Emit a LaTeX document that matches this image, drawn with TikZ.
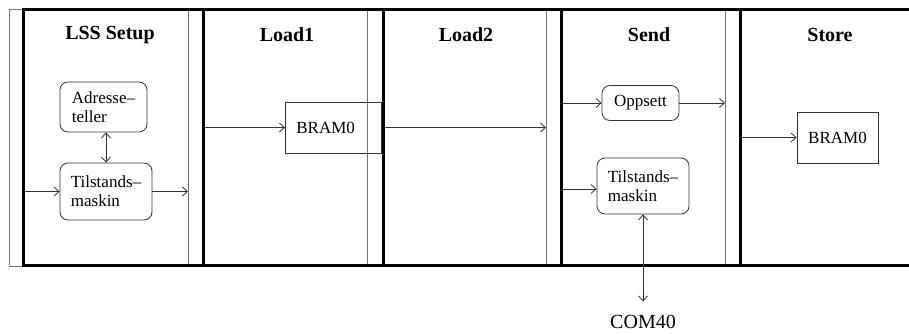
\documentclass[tikz,border=0pt]{standalone}
\usepackage{fontspec}
\setmainfont{Liberation Serif}
\usetikzlibrary{arrows.meta}
\begin{document}
\begin{tikzpicture}[x=1pt,y=-1pt,
  thinline/.style={draw=black!55,line width=1pt},
  thickline/.style={draw=black,line width=3pt},
  title/.style={font=\fontsize{20}{22}\selectfont\bfseries,inner sep=0pt},
  rbox/.style={draw=black!80,line width=0.8pt,rounded corners=8pt,align=left,font=\fontsize{17}{19}\selectfont,inner sep=0pt},
  sbox/.style={draw=black!80,line width=0.8pt,font=\fontsize{17}{19}\selectfont,inner sep=0pt},
  conn/.style={draw=black!80,line width=0.8pt,-{Straight Barb[length=5pt,width=9pt]}},
  dconn/.style={draw=black!80,line width=0.8pt,{Straight Barb[length=5pt,width=9pt]}-{Straight Barb[length=5pt,width=9pt]}}]
\useasboundingbox (0,0) rectangle (909,334);
\fill[white] (0,0) rectangle (909,334);
% thin lane lines
\foreach \xx in {9,188,367,546,725} {\draw[thinline] (\xx,10) -- (\xx,265);}
\draw[thinline] (9,10) -- (23,10);
\draw[thinline] (9,266) -- (909,266);
% nodes
\node[rbox,minimum width=87pt,minimum height=50pt] (adr) at (103.5,107) {Adresse–\\teller};
\node[rbox,minimum width=92pt,minimum height=57pt] (tl1) at (106,191.5) {Tilstands–\\maskin};
\node[sbox,anchor=west,text width=74pt,inner xsep=11pt,minimum height=51pt] (bram1) at (285,127.5) {BRAM0};
\node[rbox,minimum width=77pt,minimum height=35pt] (opp) at (640.5,103) {Oppsett};
\node[rbox,minimum width=92pt,minimum height=56pt] (tl2) at (643,186) {Tilstands–\\maskin};
\node[sbox,minimum width=81pt,minimum height=51pt] (bram2) at (837.5,137.5) {BRAM0};
\node[font=\fontsize{20}{22}\selectfont,inner sep=0pt,anchor=base] (com) at (643,328) {COM40};
% thick lane lines
\draw[thickline] (23,10) -- (909,10);
\draw[thickline] (23,265) -- (909,265);
\foreach \xx in {23,203,383,561,740} {\draw[thickline] (\xx,8.5) -- (\xx,266.5);}
% titles
\node[title] (t1) at (110,35) {LSS Setup};
\node[title] (t2) at (287,35) {Load1};
\node[title] (t3) at (466,35) {Load2};
\node[title] (t4) at (649,35) {Send};
\node[title] (t5) at (830,35) {Store};
% free ends
\coordinate (a0) at (24.5,191.5);
\coordinate (a1) at (188,191.5);
\coordinate (b0) at (204.5,127.5);
\coordinate (c0) at (384.5,127.5);
\coordinate (c1) at (546,127.5);
\coordinate (d0) at (562.5,103);
\coordinate (d1) at (725,103);
\coordinate (e0) at (562.5,189);
\coordinate (f0) at (741.5,137.5);
% connectors
\draw[conn] (a0) -- (tl1.west);
\draw[conn] (tl1.east) -- (a1);
\draw[dconn] (adr.south -| tl1.north) -- (tl1.north);
\draw[conn] (b0) -- (bram1.west);
\draw[conn] (c0) -- (c1);
\draw[conn] (d0) -- (opp.west);
\draw[conn] (opp.east) -- (d1);
\draw[conn] (e0) -- (e0 -| tl2.west);
\draw[dconn] (tl2.south) -- ([yshift=13pt]com.north);
\draw[conn] (f0) -- (bram2.west);
\end{tikzpicture}
\end{document}
